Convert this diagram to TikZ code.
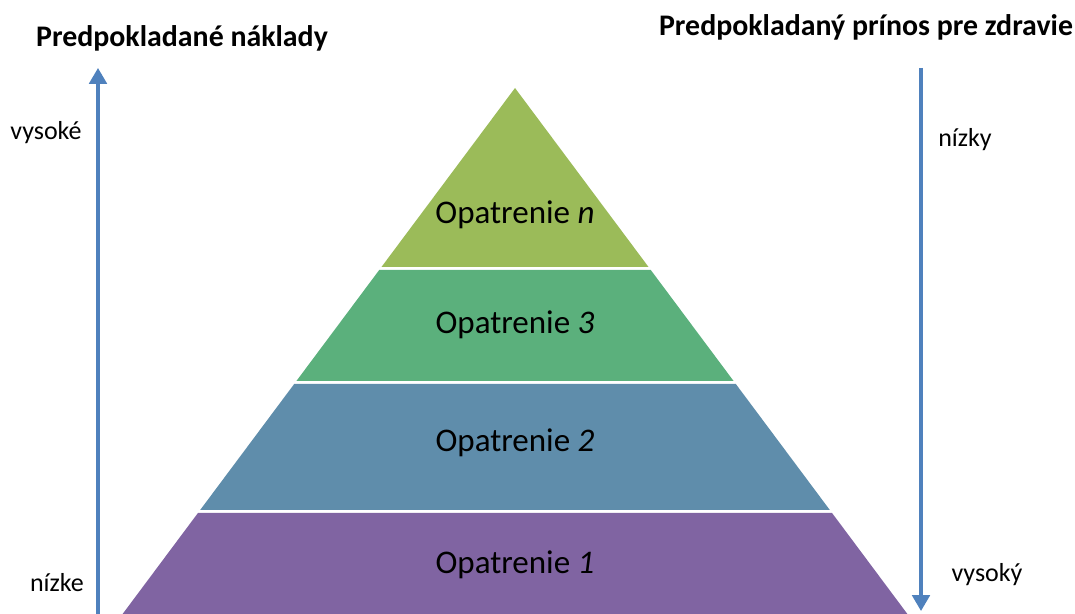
\documentclass[tikz,border=0pt]{standalone}
\usepackage{fontspec}
\setmainfont{Carlito}
\usetikzlibrary{arrows.meta}

\definecolor{levelN}{RGB}{155,187,89}
\definecolor{levelC}{RGB}{91,176,124}
\definecolor{levelB}{RGB}{95,141,171}
\definecolor{levelA}{RGB}{128,100,162}
\definecolor{axisblue}{RGB}{79,129,189}

% half width of the pyramid at height #1 (apex at 515,88)
\newcommand\hw[1]{(0.746*(#1-88))}
% one layer of the pyramid: top y, bottom y, colour
\newcommand\mylayer[3]{
    \fill[#3] ({515-\hw{#1}},#1) -- ({515+\hw{#1}},#1)
        -- ({515+\hw{#2}},#2) -- ({515-\hw{#2}},#2) -- cycle;
}

\tikzset{
    axis/.style={draw=axisblue, line width=1.8pt, -{Triangle[width=10pt,length=9pt]}},
    title/.style={font=\fontsize{17}{20}\selectfont\bfseries, inner sep=0pt},
    side/.style={font=\fontsize{14.8}{17}\selectfont, inner sep=0pt},
    level/.style={font=\fontsize{18.8}{22}\selectfont, inner sep=0pt},
}

\begin{document}
\begin{tikzpicture}[x=0.02cm, y=-0.02cm]
    \clip (0,0) rectangle (1075,614);

    % Pyramid
    \mylayer{88}{267}{levelN}
    \mylayer{270}{381}{levelC}
    \mylayer{384}{510}{levelB}
    \mylayer{513}{640}{levelA}

    \node[level] (optn) at (515,215) {Opatrenie \textit{n}};
    \node[level] (opt3) at (515,325) {Opatrenie \textit{3}};
    \node[level] (opt2) at (515,443) {Opatrenie \textit{2}};
    \node[level] (opt1) at (515,565) {Opatrenie \textit{1}};

    % Axes
    \coordinate (costlow)  at (98,614);
    \coordinate (costhigh) at (98,68);
    \coordinate (gaintop)  at (921,68);
    \coordinate (gainbot)  at (921,611);
    \draw[axis] (costlow) -- (costhigh);
    \draw[axis] (gaintop) -- (gainbot);

    \node[title] (costs) at (182,38) {Predpokladané náklady};
    \node[title] (gain)  at (866,27) {Predpokladaný prínos pre zdravie};

    \node[side] (costhi) at (46,133) {vysoké};
    \node[side] (costlo) at (57,583) {nízke};
    \node[side] (gainlo) at (965,140) {nízky};
    \node[side] (gainhi) at (987,575) {vysoký};
\end{tikzpicture}
\end{document}
